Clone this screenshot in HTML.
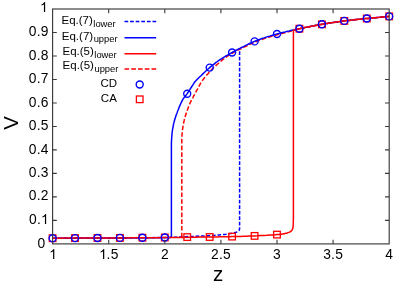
<!DOCTYPE html><html><head><meta charset="utf-8"><style>
html,body{margin:0;padding:0;background:#fff}body{width:395px;height:284px;position:relative;overflow:hidden;font-family:"Liberation Sans",sans-serif;color:#000}
#tx{position:absolute;left:0;top:0;width:395px;height:284px;will-change:transform;transform:translateZ(0)}
.t{position:absolute;white-space:nowrap;line-height:1}
.yl{font-size:13.8px;right:346.2px;text-align:right;letter-spacing:0.3px}
.xl{font-size:13.8px;transform:translateX(-50%);letter-spacing:0.3px}
.lg{font-size:11.5px;text-align:right}
.lg span{font-size:9.4px;position:relative;top:2.3px;margin-left:0.5px}
</style></head><body>
<svg width="395" height="284" viewBox="0 0 395 284" style="position:absolute;left:0;top:0">
<path d="M52.6,238.2 L58.0,238.2 L65.2,238.1 L73.9,238.1 L83.5,238.1 L93.4,238.0 L103.2,238.0 L112.2,237.9 L120.0,237.9 L126.8,237.9 L133.3,237.8 L139.4,237.8 L145.2,237.7 L150.6,237.7 L155.6,237.6 L160.4,237.6 L164.8,237.5 L168.7,237.4 L172.2,237.3 L175.1,237.2 L177.8,237.1 L180.4,237.0 L182.8,236.8 L185.3,236.7 L188.0,236.6 L190.8,236.5 L193.7,236.4 L196.5,236.2 L199.3,236.1 L202.0,236.0 L204.7,235.9 L207.3,235.7 L209.7,235.6 L212.1,235.4 L214.4,235.3 L216.6,235.1 L218.8,234.9 L220.8,234.7 L222.7,234.5 L224.4,234.4 L226.0,234.2 L227.3,234.0 L228.5,233.9 L229.4,233.7 L230.2,233.6 L231.0,233.4 L231.7,233.3 L232.3,233.1 L233.0,233.0 L233.7,232.9 L234.3,232.7 L234.9,232.6 L235.5,232.4 L236.0,232.3 L236.5,232.1 L236.9,232.0 L237.3,231.8 L237.7,231.6 L238.0,231.5 L238.2,231.3 L238.4,231.2 L238.6,231.0 L238.8,230.8 L239.0,230.6 L239.1,230.4 L239.2,230.2 L239.3,229.9 L239.4,229.6 L239.5,229.3 L239.5,229.0 L239.5,228.7 L239.6,228.5 L239.6,228.3 L239.6,49.3" fill="none" stroke="#0000ff" stroke-width="1.5" stroke-dasharray="3.6,1.9"/>
<path d="M181.8,237.3 L181.8,200.0 L181.8,160.0 L181.8,158.3 L181.8,156.0 L181.8,153.2 L181.8,150.2 L181.8,147.1 L181.8,144.0 L181.8,141.3 L181.8,139.0 L181.9,137.1 L182.0,135.5 L182.1,134.0 L182.2,132.7 L182.3,131.5 L182.4,130.3 L182.6,129.2 L182.8,128.0 L182.9,126.8 L183.1,125.7 L183.3,124.6 L183.5,123.5 L183.7,122.5 L183.9,121.5 L184.2,120.4 L184.4,119.4 L184.7,118.3 L185.0,117.3 L185.3,116.2 L185.6,115.2 L186.0,114.1 L186.3,113.1 L186.7,112.1 L187.0,111.0 L187.4,109.9 L187.8,108.8 L188.2,107.8 L188.6,106.7 L189.1,105.6 L189.5,104.5 L189.9,103.5 L190.3,102.5 L190.8,101.6 L191.2,100.7 L191.7,99.8 L192.1,99.0 L192.6,98.2 L193.1,97.3 L193.5,96.4 L194.0,95.5 L194.6,94.5 L195.1,93.4 L195.7,92.4 L196.3,91.2 L196.9,90.1 L197.5,89.1 L198.0,88.0 L198.6,87.0 L199.1,86.1 L199.6,85.2 L200.0,84.4 L200.4,83.6 L200.9,82.8 L201.4,82.0 L202.0,81.0 L202.8,80.0 L203.7,78.8 L204.7,77.6 L205.8,76.2 L207.0,74.8 L208.2,73.4 L209.5,72.0 L210.7,70.6 L212.0,69.3 L213.3,68.0 L214.6,66.7 L216.0,65.4 L217.4,64.2 L218.8,63.0 L220.2,61.8 L221.6,60.6 L223.0,59.5 L224.4,58.5 L225.8,57.4 L227.2,56.5 L228.6,55.5 L230.0,54.6 L231.4,53.8 L232.7,53.0 L234.0,52.2 L235.2,51.5 L236.4,50.9 L237.5,50.3 L238.6,49.7 L239.7,49.2 L240.9,48.7 L242.0,48.1 L243.3,47.5 L244.6,46.8 L246.0,46.2 L247.5,45.5 L248.9,44.8 L250.4,44.1 L251.9,43.4 L253.4,42.7 L254.8,42.1 L256.2,41.5 L257.6,41.0 L258.9,40.5 L260.3,40.0 L261.7,39.5 L263.0,39.0 L264.4,38.6 L265.8,38.1 L267.2,37.6 L268.7,37.2 L270.1,36.8 L271.6,36.3 L273.0,35.9 L274.4,35.5 L275.9,35.1 L277.3,34.7 L278.7,34.3 L280.1,34.0 L281.5,33.6 L282.8,33.3 L284.2,32.9 L285.6,32.6 L286.9,32.3 L288.3,31.9 L289.7,31.5 L291.1,31.1 L292.5,30.7 L293.8,30.3 L295.2,29.9 L296.6,29.6 L298.0,29.2 L299.4,28.8 L300.8,28.5 L302.2,28.2 L303.6,27.9 L304.9,27.6 L306.3,27.4 L307.7,27.1 L309.1,26.8 L310.5,26.5 L311.9,26.3 L313.3,26.0 L314.7,25.7 L316.1,25.5 L317.6,25.2 L319.0,24.9 L320.4,24.7 L321.8,24.4 L323.2,24.2 L324.6,24.0 L326.0,23.7 L327.4,23.5 L328.8,23.3 L330.2,23.1 L331.6,22.9 L333.0,22.6 L334.4,22.4 L335.8,22.2 L337.2,22.0 L338.7,21.8 L340.1,21.6 L341.5,21.4 L342.9,21.2 L344.3,21.0 L345.7,20.9 L347.1,20.7 L348.5,20.5 L349.9,20.4 L351.3,20.2 L352.7,20.1 L354.1,19.9 L355.5,19.8 L356.9,19.6 L358.3,19.5 L359.7,19.3 L361.1,19.2 L362.5,19.1 L363.9,18.9 L365.3,18.8 L366.7,18.6 L368.1,18.5 L369.5,18.4 L370.9,18.2 L372.4,18.1 L373.8,18.0 L375.2,17.8 L376.6,17.7 L378.0,17.5 L379.5,17.4 L381.1,17.3 L382.7,17.1 L384.3,17.0 L385.8,16.8 L387.2,16.7 L388.3,16.6 L389.2,16.5" fill="none" stroke="#ff0000" stroke-width="1.5" stroke-dasharray="4.6,2.1"/>
<path d="M52.6,238.2 L120.0,237.9 L170.4,237.5 L171.4,236.5 L171.4,200.0 L171.4,160.0 L171.4,158.8 L171.4,157.2 L171.4,155.3 L171.4,153.2 L171.4,151.0 L171.4,148.8 L171.4,146.8 L171.4,145.0 L171.4,143.4 L171.5,141.9 L171.5,140.5 L171.6,139.1 L171.7,137.8 L171.8,136.5 L171.9,135.3 L172.0,134.0 L172.1,132.8 L172.3,131.6 L172.4,130.5 L172.6,129.3 L172.8,128.2 L173.0,127.2 L173.2,126.1 L173.4,125.0 L173.6,123.9 L173.9,122.9 L174.2,121.8 L174.4,120.8 L174.7,119.7 L175.0,118.7 L175.4,117.6 L175.7,116.6 L176.0,115.6 L176.4,114.5 L176.8,113.5 L177.2,112.4 L177.5,111.4 L178.0,110.3 L178.4,109.3 L178.8,108.2 L179.2,107.1 L179.7,106.0 L180.2,104.9 L180.7,103.8 L181.2,102.7 L181.7,101.7 L182.2,100.6 L182.7,99.7 L183.2,98.8 L183.8,98.1 L184.3,97.3 L184.9,96.6 L185.4,95.9 L186.0,95.2 L186.6,94.4 L187.2,93.6 L187.8,92.7 L188.5,91.7 L189.1,90.6 L189.8,89.6 L190.5,88.5 L191.2,87.5 L191.8,86.5 L192.4,85.6 L192.9,84.8 L193.3,84.2 L193.7,83.6 L194.0,83.1 L194.4,82.5 L194.9,81.8 L195.7,81.0 L196.6,80.0 L197.8,78.7 L199.3,77.3 L201.0,75.7 L202.8,73.9 L204.6,72.2 L206.4,70.5 L208.1,69.0 L209.7,67.6 L211.1,66.4 L212.4,65.3 L213.7,64.3 L214.9,63.3 L216.1,62.4 L217.4,61.5 L218.6,60.6 L220.0,59.7 L221.4,58.8 L222.9,57.8 L224.5,56.9 L226.0,56.0 L227.6,55.1 L229.1,54.2 L230.6,53.3 L232.1,52.5 L233.5,51.7 L234.9,51.0 L236.2,50.2 L237.6,49.5 L238.9,48.8 L240.3,48.2 L241.6,47.5 L243.0,46.8 L244.4,46.1 L245.8,45.4 L247.3,44.7 L248.7,44.0 L250.2,43.3 L251.6,42.6 L253.1,42.0 L254.5,41.4 L255.9,40.8 L257.3,40.3 L258.6,39.8 L260.0,39.3 L261.4,38.8 L262.7,38.3 L264.1,37.9 L265.5,37.4 L266.9,36.9 L268.4,36.5 L269.8,36.1 L271.2,35.6 L272.7,35.2 L274.1,34.8 L275.6,34.4 L277.0,34.0 L278.4,33.6 L279.8,33.3 L281.1,32.9 L282.5,32.5 L283.9,32.2 L285.2,31.9 L286.6,31.5 L288.0,31.2 L289.4,30.9 L290.8,30.5 L292.3,30.2 L293.7,29.9 L295.1,29.6 L296.6,29.3 L298.0,29.0 L299.4,28.7 L300.8,28.4 L302.2,28.1 L303.6,27.8 L305.0,27.5 L306.3,27.2 L307.7,27.0 L309.1,26.7 L310.5,26.4 L311.9,26.1 L313.3,25.9 L314.7,25.6 L316.1,25.3 L317.6,25.1 L319.0,24.8 L320.4,24.5 L321.8,24.3 L323.2,24.1 L324.6,23.8 L326.0,23.6 L327.4,23.4 L328.8,23.1 L330.2,22.9 L331.6,22.7 L333.0,22.5 L334.4,22.3 L335.8,22.1 L337.2,21.9 L338.7,21.7 L340.1,21.5 L341.5,21.3 L342.9,21.1 L344.3,20.9 L345.7,20.7 L347.1,20.5 L348.5,20.4 L349.9,20.2 L351.3,20.1 L352.7,19.9 L354.1,19.8 L355.5,19.6 L356.9,19.5 L358.3,19.3 L359.7,19.2 L361.1,19.0 L362.5,18.9 L363.9,18.8 L365.3,18.6 L366.7,18.5 L368.1,18.4 L369.5,18.2 L370.9,18.1 L372.4,17.9 L373.8,17.8 L375.2,17.7 L376.6,17.5 L378.0,17.4 L379.5,17.3 L381.1,17.1 L382.7,17.0 L384.3,16.8 L385.8,16.7 L387.2,16.6 L388.3,16.5 L389.2,16.4" fill="none" stroke="#0000ff" stroke-width="1.5" stroke-linejoin="round"/>
<path d="M52.6,238.2 L58.0,238.2 L65.2,238.1 L73.9,238.1 L83.5,238.1 L93.4,238.0 L103.2,238.0 L112.2,237.9 L120.0,237.9 L126.7,237.9 L132.8,237.8 L138.5,237.8 L143.8,237.8 L149.0,237.7 L154.1,237.7 L159.3,237.7 L164.8,237.6 L170.6,237.5 L176.5,237.5 L182.6,237.4 L188.7,237.3 L194.5,237.2 L200.1,237.1 L205.2,237.1 L209.7,237.0 L213.6,236.9 L216.9,236.9 L219.7,236.8 L222.2,236.8 L224.6,236.8 L226.9,236.7 L229.3,236.7 L232.0,236.6 L234.8,236.5 L237.7,236.5 L240.5,236.4 L243.3,236.3 L246.2,236.2 L249.0,236.1 L251.9,236.0 L254.7,235.9 L257.6,235.8 L260.7,235.6 L263.8,235.4 L266.9,235.3 L269.8,235.1 L272.6,234.9 L275.1,234.8 L277.2,234.6 L278.9,234.5 L280.3,234.3 L281.3,234.2 L282.2,234.1 L282.9,233.9 L283.6,233.8 L284.3,233.7 L285.0,233.5 L285.8,233.3 L286.4,233.2 L287.1,233.0 L287.7,232.8 L288.2,232.6 L288.8,232.4 L289.2,232.2 L289.7,232.0 L290.1,231.8 L290.5,231.6 L290.8,231.4 L291.1,231.1 L291.3,230.9 L291.6,230.6 L291.8,230.3 L292.0,230.0 L292.2,229.7 L292.4,229.3 L292.5,229.0 L292.7,228.7 L292.8,228.2 L292.9,227.8 L293.0,227.2 L293.1,226.5 L293.2,225.6 L293.2,224.5 L293.3,223.3 L293.3,222.0 L293.3,220.8 L293.4,219.6 L293.4,218.7 L293.4,218.0 L293.4,30.1 L295.1,29.6 L296.6,29.3 L298.0,29.0 L299.4,28.7 L300.8,28.4 L302.2,28.1 L303.6,27.8 L305.0,27.5 L306.3,27.2 L307.7,27.0 L309.1,26.7 L310.5,26.4 L311.9,26.1 L313.3,25.9 L314.7,25.6 L316.1,25.3 L317.6,25.1 L319.0,24.8 L320.4,24.5 L321.8,24.3 L323.2,24.1 L324.6,23.8 L326.0,23.6 L327.4,23.4 L328.8,23.1 L330.2,22.9 L331.6,22.7 L333.0,22.5 L334.4,22.3 L335.8,22.1 L337.2,21.9 L338.7,21.7 L340.1,21.5 L341.5,21.3 L342.9,21.1 L344.3,20.9 L345.7,20.7 L347.1,20.5 L348.5,20.4 L349.9,20.2 L351.3,20.1 L352.7,19.9 L354.1,19.8 L355.5,19.6 L356.9,19.5 L358.3,19.3 L359.7,19.2 L361.1,19.0 L362.5,18.9 L363.9,18.8 L365.3,18.6 L366.7,18.5 L368.1,18.4 L369.5,18.2 L370.9,18.1 L372.4,17.9 L373.8,17.8 L375.2,17.7 L376.6,17.5 L378.0,17.4 L379.5,17.3 L381.1,17.1 L382.7,17.0 L384.3,16.8 L385.8,16.7 L387.2,16.6 L388.3,16.5 L389.2,16.4" fill="none" stroke="#ff0000" stroke-width="1.5" stroke-linejoin="round"/>
<rect x="49.3" y="234.9" width="6.6" height="6.6" fill="none" stroke="#ff0000" stroke-width="1.3"/>
<rect x="71.7" y="234.8" width="6.6" height="6.6" fill="none" stroke="#ff0000" stroke-width="1.3"/>
<rect x="94.2" y="234.7" width="6.6" height="6.6" fill="none" stroke="#ff0000" stroke-width="1.3"/>
<rect x="116.6" y="234.6" width="6.6" height="6.6" fill="none" stroke="#ff0000" stroke-width="1.3"/>
<rect x="139.1" y="234.4" width="6.6" height="6.6" fill="none" stroke="#ff0000" stroke-width="1.3"/>
<rect x="161.5" y="234.2" width="6.6" height="6.6" fill="none" stroke="#ff0000" stroke-width="1.3"/>
<rect x="183.9" y="233.8" width="6.6" height="6.6" fill="none" stroke="#ff0000" stroke-width="1.3"/>
<rect x="206.4" y="233.7" width="6.6" height="6.6" fill="none" stroke="#ff0000" stroke-width="1.3"/>
<rect x="228.8" y="233.3" width="6.6" height="6.6" fill="none" stroke="#ff0000" stroke-width="1.3"/>
<rect x="251.3" y="232.6" width="6.6" height="6.6" fill="none" stroke="#ff0000" stroke-width="1.3"/>
<rect x="273.7" y="231.3" width="6.6" height="6.6" fill="none" stroke="#ff0000" stroke-width="1.3"/>
<rect x="296.1" y="25.4" width="6.6" height="6.6" fill="none" stroke="#ff0000" stroke-width="1.3"/>
<rect x="318.6" y="21.0" width="6.6" height="6.6" fill="none" stroke="#ff0000" stroke-width="1.3"/>
<rect x="341.0" y="17.6" width="6.6" height="6.6" fill="none" stroke="#ff0000" stroke-width="1.3"/>
<rect x="363.5" y="15.2" width="6.6" height="6.6" fill="none" stroke="#ff0000" stroke-width="1.3"/>
<rect x="385.9" y="13.1" width="6.6" height="6.6" fill="none" stroke="#ff0000" stroke-width="1.3"/>
<circle cx="52.6" cy="238.2" r="3.5" fill="none" stroke="#0000ff" stroke-width="1.4"/>
<circle cx="75.0" cy="238.1" r="3.5" fill="none" stroke="#0000ff" stroke-width="1.4"/>
<circle cx="97.5" cy="238.0" r="3.5" fill="none" stroke="#0000ff" stroke-width="1.4"/>
<circle cx="119.9" cy="237.9" r="3.5" fill="none" stroke="#0000ff" stroke-width="1.4"/>
<circle cx="142.4" cy="237.7" r="3.5" fill="none" stroke="#0000ff" stroke-width="1.4"/>
<circle cx="164.8" cy="237.5" r="3.5" fill="none" stroke="#0000ff" stroke-width="1.4"/>
<circle cx="187.2" cy="93.7" r="3.5" fill="none" stroke="#0000ff" stroke-width="1.4"/>
<circle cx="209.7" cy="67.6" r="3.5" fill="none" stroke="#0000ff" stroke-width="1.4"/>
<circle cx="232.1" cy="52.5" r="3.5" fill="none" stroke="#0000ff" stroke-width="1.4"/>
<circle cx="254.6" cy="41.4" r="3.5" fill="none" stroke="#0000ff" stroke-width="1.4"/>
<circle cx="277.0" cy="34.0" r="3.5" fill="none" stroke="#0000ff" stroke-width="1.4"/>
<circle cx="299.4" cy="28.7" r="3.5" fill="none" stroke="#0000ff" stroke-width="1.4"/>
<circle cx="321.9" cy="24.3" r="3.5" fill="none" stroke="#0000ff" stroke-width="1.4"/>
<circle cx="344.3" cy="20.9" r="3.5" fill="none" stroke="#0000ff" stroke-width="1.4"/>
<circle cx="366.8" cy="18.5" r="3.5" fill="none" stroke="#0000ff" stroke-width="1.4"/>
<circle cx="389.2" cy="16.4" r="3.5" fill="none" stroke="#0000ff" stroke-width="1.4"/>
<rect x="52.6" y="9.0" width="336.6" height="234.9" fill="none" stroke="#3a3a3a" stroke-width="1.15"/>
<path d="M108.7,243.9v-4.2M108.7,9.0v4.2M164.8,243.9v-4.2M164.8,9.0v4.2M220.9,243.9v-4.2M220.9,9.0v4.2M277.0,243.9v-4.2M277.0,9.0v4.2M333.1,243.9v-4.2M333.1,9.0v4.2M52.6,220.4h4.2M389.2,220.4h-4.2M52.6,196.9h4.2M389.2,196.9h-4.2M52.6,173.4h4.2M389.2,173.4h-4.2M52.6,149.9h4.2M389.2,149.9h-4.2M52.6,126.5h4.2M389.2,126.5h-4.2M52.6,103.0h4.2M389.2,103.0h-4.2M52.6,79.5h4.2M389.2,79.5h-4.2M52.6,56.0h4.2M389.2,56.0h-4.2M52.6,32.5h4.2M389.2,32.5h-4.2" stroke="#3a3a3a" stroke-width="1.1" fill="none"/>
<path d="M124.5,21.6H156.2" stroke="#0000ff" stroke-width="1.5" stroke-dasharray="3.7,1.9"/>
<path d="M124.5,37.7H156.2" stroke="#0000ff" stroke-width="1.5"/>
<path d="M124.5,53.8H156.2" stroke="#ff0000" stroke-width="1.5"/>
<path d="M124.5,69H156.2" stroke="#ff0000" stroke-width="1.5" stroke-dasharray="4.7,2.05"/>
<circle cx="139.7" cy="84.5" r="3.5" fill="none" stroke="#0000ff" stroke-width="1.4"/>
<rect x="136.4" y="96" width="6.6" height="6.6" fill="none" stroke="#ff0000" stroke-width="1.3"/>
</svg>
<div id="tx">
<div class="t yl" style="top:236.4px;margin-right:3.3px;margin-top:1px">0</div>
<div class="t yl" style="top:212.9px">0.<svg viewBox="0 -1472 1139 1472" style="display:inline-block;width:0.556em;height:0.71875em;vertical-align:baseline;overflow:visible"><path d="M763 0H583V-1147Q518 -1085 412.5 -1023T223 -930V-1104Q374 -1175 487 -1276T647 -1472H763Z" fill="#000"/></svg></div>
<div class="t yl" style="top:189.4px">0.2</div>
<div class="t yl" style="top:165.9px">0.3</div>
<div class="t yl" style="top:142.5px">0.4</div>
<div class="t yl" style="top:119.0px">0.5</div>
<div class="t yl" style="top:95.5px">0.6</div>
<div class="t yl" style="top:72.0px">0.7</div>
<div class="t yl" style="top:48.5px">0.8</div>
<div class="t yl" style="top:25.0px">0.9</div>
<div class="t yl" style="top:1.5px;margin-right:1px;margin-top:-0.6px"><svg viewBox="0 -1472 1139 1472" style="display:inline-block;width:0.556em;height:0.71875em;vertical-align:baseline;overflow:visible"><path d="M763 0H583V-1147Q518 -1085 412.5 -1023T223 -930V-1104Q374 -1175 487 -1276T647 -1472H763Z" fill="#000"/></svg></div>
<div class="t xl" style="left:52.7px;top:248.0px"><svg viewBox="0 -1472 1139 1472" style="display:inline-block;width:0.556em;height:0.71875em;vertical-align:baseline;overflow:visible"><path d="M763 0H583V-1147Q518 -1085 412.5 -1023T223 -930V-1104Q374 -1175 487 -1276T647 -1472H763Z" fill="#000"/></svg></div>
<div class="t xl" style="left:108.8px;top:248.0px"><svg viewBox="0 -1472 1139 1472" style="display:inline-block;width:0.556em;height:0.71875em;vertical-align:baseline;overflow:visible"><path d="M763 0H583V-1147Q518 -1085 412.5 -1023T223 -930V-1104Q374 -1175 487 -1276T647 -1472H763Z" fill="#000"/></svg>.5</div>
<div class="t xl" style="left:164.9px;top:248.0px">2</div>
<div class="t xl" style="left:221.0px;top:248.0px">2.5</div>
<div class="t xl" style="left:277.1px;top:248.0px">3</div>
<div class="t xl" style="left:333.2px;top:248.0px">3.5</div>
<div class="t xl" style="left:389.3px;top:248.0px">4</div>
<div class="t" style="font-size:20.5px;left:218px;top:263.9px;transform:translateX(-50%)">z</div>
<div class="t" style="font-size:20.5px;left:11.3px;top:123px;transform:translate(-50%,-50%) rotate(-90deg)">V</div>
<div class="t lg" style="top:15.3px;right:279.3px">Eq.(7)<span style='top:3.2px'>lower</span></div>
<div class="t lg" style="top:31.3px;right:277.4px">Eq.(7)<span style='top:1.3px'>upper</span></div>
<div class="t lg" style="top:46.0px;right:278.3px">Eq.(5)<span style='top:2.8px'>lower</span></div>
<div class="t lg" style="top:60.0px;right:276.6px">Eq.(5)<span style='top:2.9px'>upper</span></div>
<div class="t lg" style="top:77.8px;right:278.0px">CD</div>
<div class="t lg" style="top:93.1px;right:278.2px">CA</div>
</div></body></html>
